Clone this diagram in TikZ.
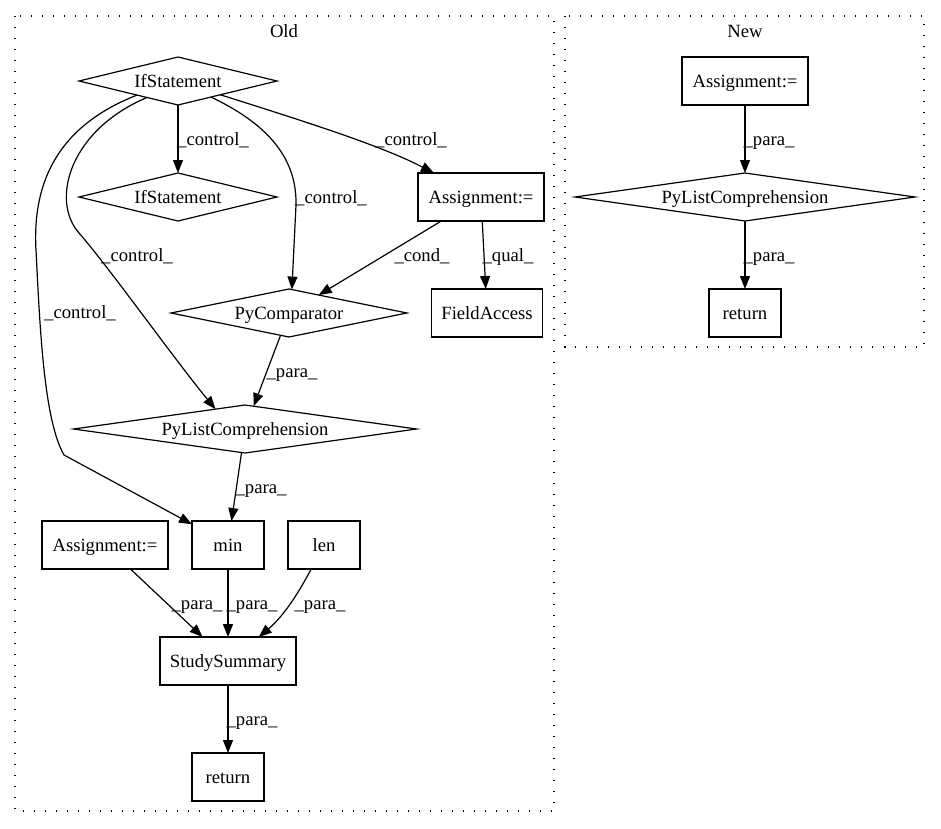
\documentclass[tikz,border=0pt]{standalone}
\usepackage{fontspec}
\setmainfont{Liberation Serif}
\usetikzlibrary{shapes.geometric,arrows.meta}
\newcommand\gvfont{\fontsize{18.67pt}{22pt}\selectfont}
\begin{document}
\begin{tikzpicture}[x=1pt,y=-1pt,
  every node/.style={font=\gvfont},
  gbox/.style={draw, line width=1.2pt, rectangle, minimum height=48pt, inner sep=0pt, outer sep=0pt, text height=14pt, text depth=2pt},
  gdia/.style={draw, line width=1.2pt, diamond, aspect=6, minimum height=48pt, inner sep=0pt, outer sep=0pt, text height=14pt, text depth=2pt},
  edge/.style={line width=1.2pt, -{Triangle[length=13pt,width=10pt]}},
  lbl/.style={inner sep=0pt, anchor=base},
  cluster/.style={line width=1.3pt, dash pattern=on 1.3pt off 9.7pt},
]
\useasboundingbox (0,0) rectangle (941,828);
% clusters
\draw[cluster] (15,16) rectangle (554,811);
\draw[cluster] (565,16) rectangle (924,347);
\node[lbl] (oldlbl) at (284,37.5) {Old};
\node[lbl] (newlbl) at (745,37.5) {New};

% Old nodes
\node[gdia, minimum width=198pt] (ifs) at (178,81) {IfStatement};
\node[gdia, minimum width=198pt] (ifs2) at (178,197) {IfStatement};
\node[gbox, minimum width=126pt] (assign1) at (481,197) {Assignment:=};
\node[gdia, minimum width=236pt] (pycomp) at (289,313) {PyComparator};
\node[gbox, minimum width=111pt] (field) at (487,313) {FieldAccess};
\node[gdia, aspect=8, minimum width=343pt] (pylc) at (245,429) {PyListComprehension};
\node[gbox, minimum width=126pt] (assign2) at (105,545) {Assignment:=};
\node[gbox, minimum width=72pt] (min) at (228,545) {min};
\node[gbox, minimum width=72pt] (len) at (324,545) {len};
\node[gbox, minimum width=136pt] (ss) at (228,661) {StudySummary};
\node[gbox, minimum width=72pt] (ret) at (228,777) {return};

% New nodes
\node[gbox, minimum width=126pt] (nassign) at (745,81) {Assignment:=};
\node[gdia, aspect=8, minimum width=340pt] (npylc) at (745,197) {PyListComprehension};
\node[gbox, minimum width=72pt] (nret) at (745,313) {return};

% Old edges
\draw[edge] (ifs) -- (ifs2);
\draw[edge] (ifs.-26) .. controls (270,125) and (297,160) .. (296,205) -- (pycomp.83);
\draw[edge] (ifs.-18) .. controls (300,120) and (380,145) .. (assign1.153);
\draw[edge] (ifs.-152) .. controls (70,130) and (50,200) .. (79,233) .. controls (108,266) and (175,360) .. (pylc.146);
\draw[edge] (ifs.199) .. controls (60,125) and (32,180) .. (36,250) .. controls (40,330) and (44,420) .. (64,455) -- (min.150);
\draw[edge] (assign1) -- (pycomp);
\draw[edge] (assign1) -- (field);
\draw[edge] (pycomp) -- (pylc);
\draw[edge] (pylc) -- (min);
\draw[edge] (assign2) -- (ss);
\draw[edge] (min) -- (ss);
\draw[edge] (len.242) .. controls (300,590) and (285,615) .. (ss.38);
\draw[edge] (ss) -- (ret);

% New edges
\draw[edge] (nassign) -- (npylc);
\draw[edge] (npylc) -- (nret);

% labels
\node[lbl] (l1) at (213,145) {\_control\_};
\node[lbl] (l2) at (331,203) {\_control\_};
\node[lbl] (l3) at (411,145) {\_control\_};
\node[lbl] (l4) at (137,261) {\_control\_};
\node[lbl] (l5) at (80,318) {\_control\_};
\node[lbl] (l6) at (422,261) {\_cond\_};
\node[lbl] (l7) at (508,261) {\_qual\_};
\node[lbl] (l8) at (292,377) {\_para\_};
\node[lbl] (l9) at (261,493) {\_para\_};
\node[lbl] (l10) at (197,609) {\_para\_};
\node[lbl] (l11) at (252,609) {\_para\_};
\node[lbl] (l12) at (320,609) {\_para\_};
\node[lbl] (l13) at (252,725) {\_para\_};
\node[lbl] (l14) at (769,145) {\_para\_};
\node[lbl] (l15) at (769,261) {\_para\_};
\end{tikzpicture}
\end{document}
